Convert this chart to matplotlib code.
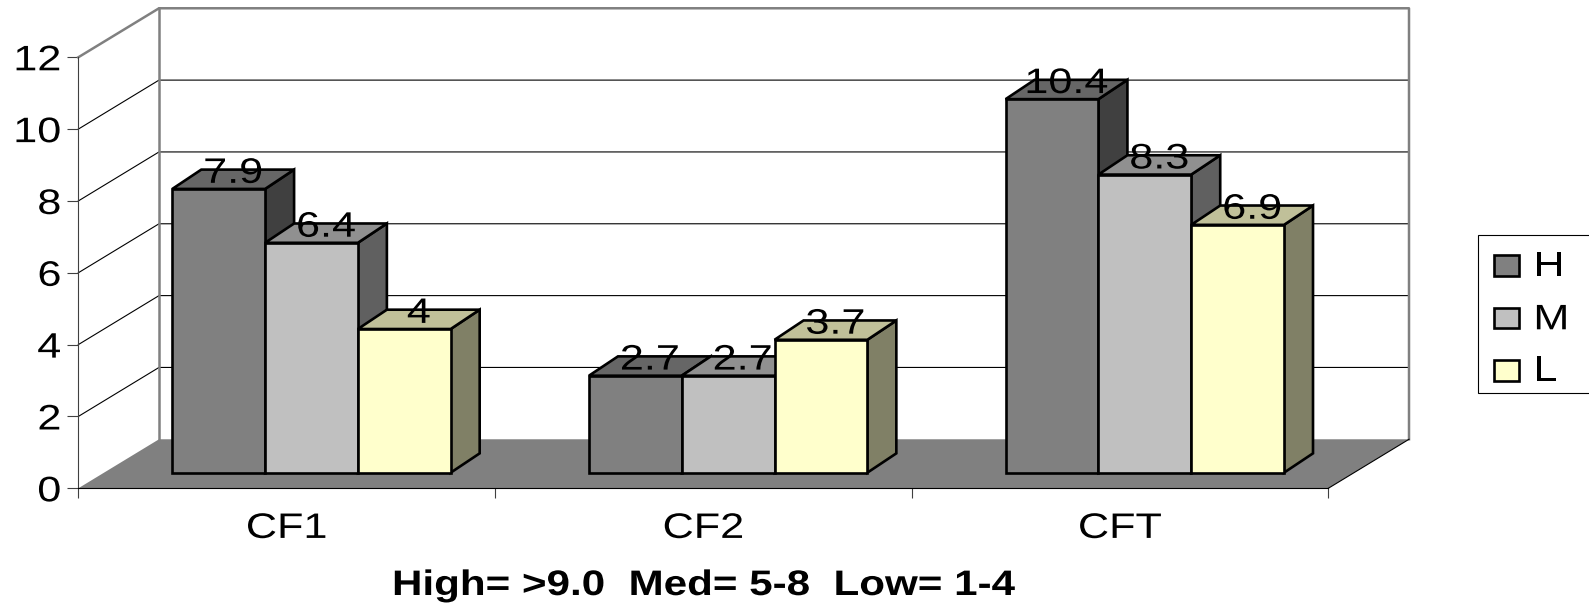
#
# 3D look bar chart, High / Med / Low per CF
#

import matplotlib
matplotlib.use('Agg')
from matplotlib import pyplot as plt
from matplotlib.patheffects import AbstractPathEffect
from matplotlib.transforms import Affine2D

CATEGORIES = ['CF1', 'CF2', 'CFT']
H_VALUES = [7.9, 2.7, 10.4]
M_VALUES = [6.4, 2.7, 8.3]
L_VALUES = [4, 3.7, 6.9]
Y_TICKS = [0, 2, 4, 6, 8, 10, 12]
LEGEND_LABELS = ['H', 'M', 'L']
FOOTER = 'High= >9.0  Med= 5-8  Low= 1-4'

W, H = 1589, 603
FONT = 25.5

# front, top, side colours of each series
COLORS = [('#808080', '#666666', '#404040'),
          ('#C0C0C0', '#909090', '#606060'),
          ('#FFFFCC', '#C0C099', '#808066')]

# depth of the walls and of the bars, in axis units
WALL_DX, WALL_DY = 0.1937, 1.365
BAR_DX, BAR_DY = 0.0696, 0.538
BAR_SHIFT_Y = 0.435
BAR_START = 0.2256
BAR_W = 0.2227


class Wide(AbstractPathEffect):
  # the source text is stretched sideways, anchor 0=left .5=centre 1=right
  def __init__(self, sx=1.22, anchor=0.5):
    super().__init__()
    self.sx = sx
    self.anchor = anchor

  def draw_path(self, renderer, gc, tpath, affine, rgbFace=None):
    ext = tpath.get_extents()
    a = ext.x0 + self.anchor * ext.width
    t = Affine2D().translate(-a, 0).scale(self.sx, 1).translate(a, 0)
    renderer.draw_path(gc, tpath, t + affine, rgbFace)


plt.rcParams['font.family'] = ['Liberation Sans', 'DejaVu Sans']

fig = plt.figure(figsize=(W / 100, H / 100), dpi=100)
ax = fig.add_axes([78.3 / W, (H - 488.3) / H, 1250 / W, 431 / H])
ax.patch.set_visible(False)
ax.set_xlim(0, len(CATEGORIES))
ax.set_ylim(0, 12)

# walls and floor
top = Y_TICKS[-1] + WALL_DY
right = len(CATEGORIES) + WALL_DX
ax.fill([0, len(CATEGORIES), right, WALL_DX], [0, 0, WALL_DY, WALL_DY],
        color='#808080', lw=0, clip_on=False, zorder=1)
for v in Y_TICKS[1:-1]:
  ax.plot([0, WALL_DX, right], [v, v + WALL_DY, v + WALL_DY], color='black', lw=0.8,
          clip_on=False, zorder=1.5)
ax.plot([0, WALL_DX, right, right], [12, top, top, WALL_DY], color='#808080', lw=1.8,
        clip_on=False, zorder=2)
ax.plot([WALL_DX, WALL_DX], [WALL_DY, top], color='#808080', lw=1.8, clip_on=False, zorder=2)
ax.plot([len(CATEGORIES), right], [0, WALL_DY], color='black', lw=0.8, clip_on=False, zorder=2)

# bars
for s, values in enumerate([H_VALUES, M_VALUES, L_VALUES]):
  front, roof, side = COLORS[s]
  for i, v in enumerate(values):
    x0 = i + BAR_START + s * BAR_W
    x1 = x0 + BAR_W
    y0 = BAR_SHIFT_Y
    y1 = v + BAR_SHIFT_Y
    z = 3 + s
    kw = dict(edgecolor='black', lw=1.9, joinstyle='miter', clip_on=False, zorder=z)
    ax.fill([x1, x1 + BAR_DX, x1 + BAR_DX, x1], [y0, y0 + BAR_DY, y1 + BAR_DY, y1],
            facecolor=side, **kw)
    ax.fill([x0, x1, x1 + BAR_DX, x0 + BAR_DX], [y1, y1, y1 + BAR_DY, y1 + BAR_DY],
            facecolor=roof, **kw)
    ax.fill([x0, x1, x1, x0], [y0, y0, y1, y1], facecolor=front, **kw)

for s, values in enumerate([H_VALUES, M_VALUES, L_VALUES]):
  for i, v in enumerate(values):
    xc = i + BAR_START + (s + 0.5) * BAR_W + BAR_DX / 2
    ax.text(xc, v + BAR_SHIFT_Y + 0.17, str(v), ha='center', va='baseline', fontsize=FONT,
            color='black', zorder=10, clip_on=False, path_effects=[Wide()])

# axes
for name in ['top', 'right']:
  ax.spines[name].set_visible(False)
ax.spines['left'].set_color('#404040')
ax.spines['bottom'].set_color('black')
ax.spines['left'].set_zorder(2.5)
ax.spines['bottom'].set_zorder(2.5)

ax.set_yticks(Y_TICKS)
ax.tick_params(axis='y', length=8, width=0.8, color='#404040', pad=4.5, labelsize=FONT)
for lab in ax.get_yticklabels():
  lab.set_path_effects([Wide(anchor=1)])

ax.set_xticks(range(len(CATEGORIES) + 1))
ax.set_xticklabels([])
ax.tick_params(axis='x', which='major', length=7, width=0.8, color='#404040')
ax.set_xticks([i + 0.5 for i in range(len(CATEGORIES))], minor=True)
ax.set_xticklabels(CATEGORIES, minor=True)
ax.tick_params(axis='x', which='minor', length=0, pad=17, labelsize=FONT)
for lab in ax.get_xticklabels(minor=True):
  lab.set_path_effects([Wide()])

# footer
fig.text(704 / W, (H - 595) / H, FOOTER, ha='center', va='baseline', fontsize=FONT,
         fontweight='bold', path_effects=[Wide(1.19)])

# legend box runs off the right side in the source
px = Affine2D().scale(1, -1).translate(0, H)
fig.add_artist(plt.Rectangle((1478, 235), 130, 158, transform=px, facecolor='white',
                             edgecolor='black', lw=0.8))
swatch_y = [255, 307.7, 360]
text_y = [276, 329.3, 380.7]
for s, label in enumerate(LEGEND_LABELS):
  fig.add_artist(plt.Rectangle((1494, swatch_y[s]), 25, 20.5, transform=px, facecolor=COLORS[s][0],
                               edgecolor='black', lw=1.9))
  fig.text(1534 / W, (H - text_y[s]) / H, label, ha='left', va='baseline', fontsize=FONT,
           path_effects=[Wide(anchor=0)])

fig.savefig('out.png', dpi=100)
